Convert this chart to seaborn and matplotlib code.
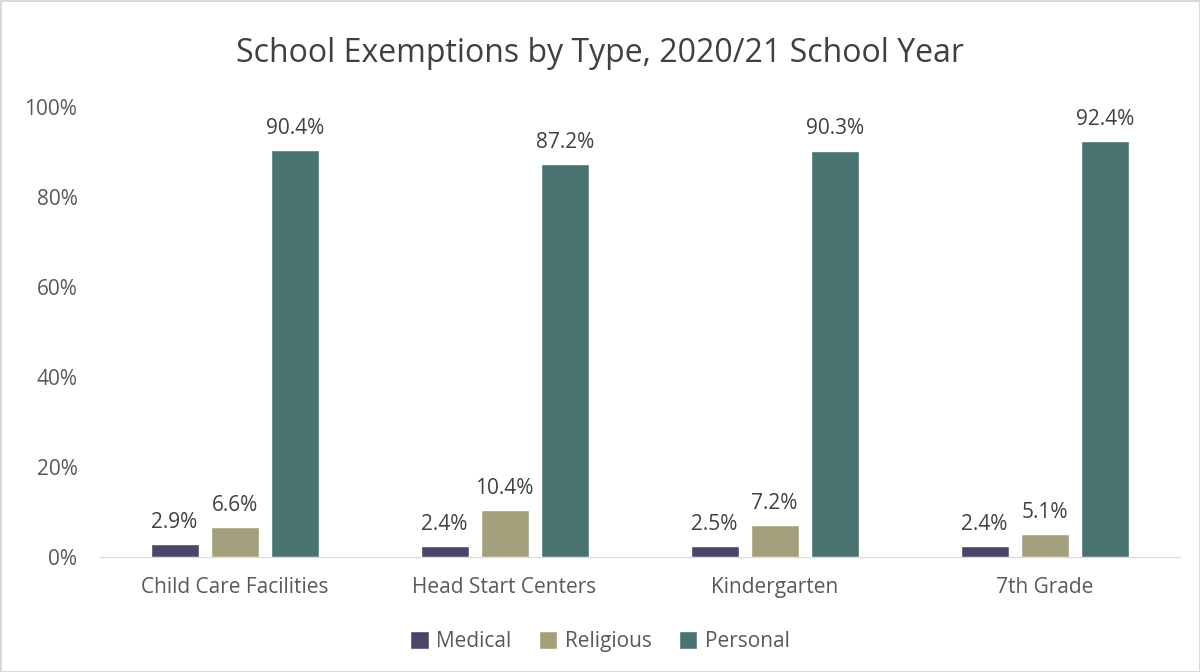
import numpy as np
import pandas as pd
import matplotlib
matplotlib.use("Agg")
import matplotlib.pyplot as plt
import seaborn as sns

# data
categories = ["Child Care Facilities", "Head Start Centers", "Kindergarten", "7th Grade"]
medical = [2.9, 2.4, 2.5, 2.4]
religious = [6.6, 10.4, 7.2, 5.1]
personal = [90.4, 87.2, 90.3, 92.4]
series_names = ["Medical", "Religious", "Personal"]
colors = ["#4b4569", "#a5a07c", "#497370"]

df = pd.DataFrame({
    "category": categories * 3,
    "type": np.repeat(series_names, len(categories)),
    "value": medical + religious + personal,
})

sns.set_style("white")
plt.rcParams["font.family"] = ["Open Sans", "DejaVu Sans"]
text_color = "#595959"

fig = plt.figure(figsize=(12, 6.72), dpi=100, edgecolor="#d9d9d9", linewidth=2)
ax = fig.add_axes([0.083, 0.171, 0.9, 0.67])

sns.barplot(data=df, x="category", y="value", hue="type", order=categories,
            hue_order=series_names, palette=colors, width=0.667, gap=0.2,
            saturation=1, ax=ax, legend=True)

for container in ax.containers:
    ax.bar_label(container, fmt="%.1f%%", padding=8, fontsize=15, color="#404040")

ax.set_ylim(0, 100)
ax.set_yticks(range(0, 101, 20))
ax.set_yticklabels([f"{v}%" for v in range(0, 101, 20)])
ax.set_xlabel("")
ax.set_ylabel("")
ax.tick_params(axis="both", labelsize=15, colors=text_color, length=0)
ax.tick_params(axis="x", pad=14)
ax.tick_params(axis="y", pad=16)
for side in ["top", "right", "left"]:
    ax.spines[side].set_visible(False)
ax.spines["bottom"].set_color("#d9d9d9")

fig.suptitle("School Exemptions by Type, 2020/21 School Year", y=0.945,
             fontsize=23, color="#404040")

handles, labels = ax.get_legend_handles_labels()
ax.legend(handles, labels, loc="center", bbox_to_anchor=(0.5, 0.045),
          bbox_transform=fig.transFigure, ncol=3, frameon=False,
          fontsize=15, labelcolor=text_color, handlelength=0.9,
          handleheight=0.9, columnspacing=1.3, handletextpad=0.35)

fig.savefig("out.png", dpi=100, edgecolor=fig.get_edgecolor())
